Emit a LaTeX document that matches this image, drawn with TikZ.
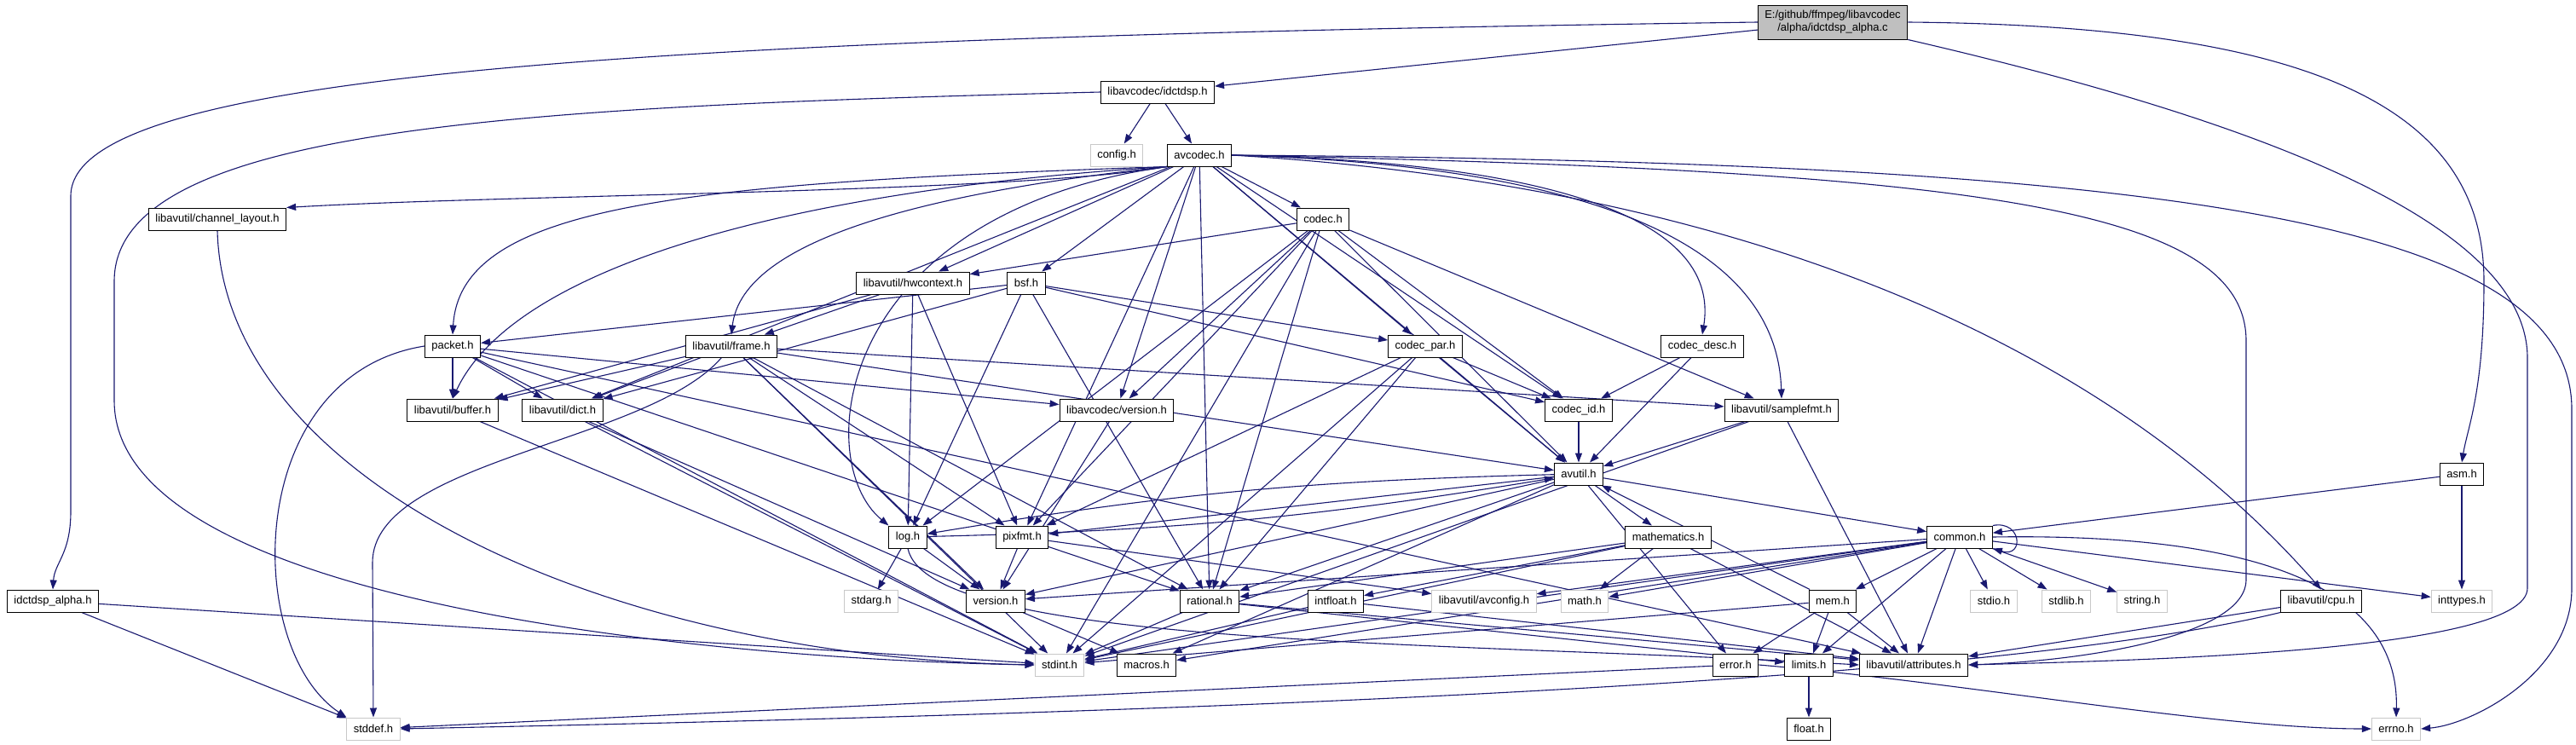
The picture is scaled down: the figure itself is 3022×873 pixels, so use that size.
\documentclass[tikz,border=0pt]{standalone}
\usepackage{fontspec}
\setmainfont{Liberation Sans}
\usetikzlibrary{arrows.meta,backgrounds}
\definecolor{edgeblue}{RGB}{25,25,112}
\definecolor{rootgray}{RGB}{191,191,191}
\definecolor{sysgray}{RGB}{200,200,200}

\begin{document}
\begin{tikzpicture}[x=1pt, y=-1pt,
  every node/.style={font=\fontsize{13}{15}\selectfont},
  hdr/.style={draw=black, line width=1pt, fill=white, rectangle, inner xsep=8pt, inner ysep=0pt, minimum height=26pt, align=center},
  syshdr/.style={hdr, draw=sysgray},
  roothdr/.style={hdr, fill=rootgray, minimum height=40pt},
  dep/.style={draw=edgeblue, line width=1.1pt, -{Triangle[length=11pt,width=8pt]}}]
\useasboundingbox (0,0) rectangle (3022,873);

\node[roothdr] (root) at (2150,26) {E:/github/ffmpeg/libavcodec\\/alpha/idctdsp\_alpha.c};
\node[hdr] (idctdsp) at (1358,108) {libavcodec/idctdsp.h};
\node[syshdr] (config) at (1310,182) {config.h};
\node[hdr] (avcodec) at (1407,182) {avcodec.h};
\node[hdr] (chlayout) at (255,257) {libavutil/channel\_layout.h};
\node[hdr] (codec) at (1552,257) {codec.h};
\node[hdr] (hwcontext) at (1071,332) {libavutil/hwcontext.h};
\node[hdr] (bsf) at (1204,332) {bsf.h};
\node[hdr] (packet) at (531,406) {packet.h};
\node[hdr] (frame) at (858,406) {libavutil/frame.h};
\node[hdr] (codecpar) at (1672,406) {codec\_par.h};
\node[hdr] (codecdesc) at (1997,406) {codec\_desc.h};
\node[hdr] (buffer) at (531,481) {libavutil/buffer.h};
\node[hdr] (dict) at (660,481) {libavutil/dict.h};
\node[hdr] (lcversion) at (1310,481) {libavcodec/version.h};
\node[hdr] (codecid) at (1852,481) {codec\_id.h};
\node[hdr] (samplefmt) at (2090,481) {libavutil/samplefmt.h};
\node[hdr] (avutil) at (1852,556) {avutil.h};
\node[hdr] (asm) at (2888,556) {asm.h};
\node[hdr] (log) at (1065,630) {log.h};
\node[hdr] (pixfmt) at (1199,630) {pixfmt.h};
\node[hdr] (mathematics) at (1957,630) {mathematics.h};
\node[hdr] (common) at (2299,630) {common.h};
\node[hdr] (idctalpha) at (62,705) {idctdsp\_alpha.h};
\node[syshdr] (stdarg) at (1022,705) {stdarg.h};
\node[hdr] (version) at (1168,705) {version.h};
\node[hdr] (rational) at (1419,705) {rational.h};
\node[hdr] (intfloat) at (1567,705) {intfloat.h};
\node[syshdr] (avconfig) at (1741,705) {libavutil/avconfig.h};
\node[syshdr] (mathh) at (1859,705) {math.h};
\node[hdr] (mem) at (2150,705) {mem.h};
\node[syshdr] (stdio) at (2339,705) {stdio.h};
\node[syshdr] (stdlib) at (2424,705) {stdlib.h};
\node[syshdr] (string) at (2513,705) {string.h};
\node[hdr] (cpu) at (2723,705) {libavutil/cpu.h};
\node[syshdr] (inttypes) at (2888,705) {inttypes.h};
\node[syshdr] (stdint) at (1243,780) {stdint.h};
\node[hdr] (macros) at (1345,780) {macros.h};
\node[hdr] (error) at (2036,780) {error.h};
\node[hdr] (limits) at (2122,780) {limits.h};
\node[hdr] (attributes) at (2245,780) {libavutil/attributes.h};
\node[syshdr] (stddef) at (438,855) {stddef.h};
\node[hdr] (float) at (2122,855) {float.h};
\node[syshdr] (errno) at (2811,855) {errno.h};

\begin{pgfonlayer}{background}
\fill[white] (0,0) rectangle (3022,873);
\draw[dep] (root) -- (idctdsp);
\draw[dep] (root.west) .. controls (700,45) and (83,90) .. (83,230) -- (83,600) .. controls (83,650) and (64,660) .. (idctalpha.north);
\draw[dep] (root.east) .. controls (2700,30) and (2914,120) .. (2914,330) .. controls (2914,460) and (2895,500) .. (asm.north);
\draw[dep] (root.south east) .. controls (2600,130) and (2965,250) .. (2965,420) -- (2965,690) .. controls (2965,765) and (2500,775) .. (attributes.east);
\draw[dep] (idctdsp) -- (config);
\draw[dep] (idctdsp) -- (avcodec);
\draw[dep] (idctdsp.west) .. controls (600,125) and (134,150) .. (134,330) -- (134,470) .. controls (134,720) and (900,775) .. (stdint.west);
\draw[dep] (idctalpha) -- (stddef);
\draw[dep] (idctalpha) -- (stdint);
\draw[dep] (avcodec.east) .. controls (2500,190) and (3017,250) .. (3017,480) -- (3017,690) .. controls (3017,790) and (2900,850) .. (errno.east);
\draw[dep] (avcodec.east) .. controls (2300,200) and (2635,240) .. (2635,400) -- (2635,680) .. controls (2635,745) and (2450,775) .. (attributes.east);
\draw[dep] (avcodec.east) .. controls (2000,215) and (2450,380) .. (cpu.north);
\draw[dep] (avcodec.east) .. controls (1900,195) and (2085,300) .. (samplefmt.north);
\draw[dep] (avcodec.east) .. controls (1800,190) and (2020,250) .. (codecdesc.north);
\draw[dep] (avcodec.south west) .. controls (1200,226) and (600,228) .. (chlayout.north east);
\draw[dep] (avcodec.south west) .. controls (800,215) and (540,240) .. (packet.north);
\draw[dep] (avcodec.south west) .. controls (900,225) and (600,320) .. (buffer.north);
\draw[dep] (avcodec.south west) .. controls (1050,230) and (870,290) .. (frame.north);
\draw[dep] (avcodec.south west) .. controls (980,250) and (950,540) .. (log.north west);
\foreach \t in {avutil,dict,hwcontext,pixfmt,rational,bsf,codec,codecpar,codecid,lcversion}
  \draw[dep] (avcodec) -- (\t);
\foreach \t in {stdint,avutil,hwcontext,log,pixfmt,rational,samplefmt,codecid,lcversion}
  \draw[dep] (codec) -- (\t);
\foreach \t in {dict,log,rational,codecid,codecpar,packet}
  \draw[dep] (bsf) -- (\t);
\draw[dep] (codecdesc) -- (avutil);
\draw[dep] (codecdesc) -- (codecid);
\draw[dep] (codecid) -- (avutil);
\foreach \t in {stdint,avutil,rational,pixfmt,codecid}
  \draw[dep] (codecpar) -- (\t);
\draw[dep] (packet.west) .. controls (285,440) and (285,760) .. (stddef.north west);
\foreach \t in {stdint,attributes,buffer,dict,rational,lcversion}
  \draw[dep] (packet) -- (\t);
\draw[dep] (lcversion) -- (version);
\draw[dep] (chlayout.south) .. controls (262,560) and (700,770) .. (stdint.west);
\foreach \t in {buffer,frame,log,pixfmt}
  \draw[dep] (hwcontext) -- (\t);
\draw[dep] (frame) .. controls (760,520) and (437,540) .. (437,660) -- (stddef.north);
\foreach \t in {stdint,avutil,buffer,dict,rational,samplefmt,pixfmt,version}
  \draw[dep] (frame) -- (\t);
\draw[dep] (buffer) -- (stdint);
\draw[dep] (dict) -- (stdint);
\draw[dep] (dict) -- (version);
\foreach \t in {avutil,attributes,stdint}
  \draw[dep] (samplefmt) -- (\t);
\foreach \t in {common,error,rational,version,macros,mathematics,pixfmt}
  \draw[dep] (avutil) -- (\t);
\draw[dep] (avutil) to[bend right=4] (log);
\draw[dep] (log) to[bend right=4] (avutil);
\draw[dep] (log) -- (stdarg);
\draw[dep] (log) -- (version);
\draw[dep] (log.south) .. controls (1090,760) and (1700,752) .. (attributes.west);
\draw[dep] (pixfmt) -- (avconfig);
\draw[dep] (pixfmt) -- (version);
\foreach \t in {stdint,limits,attributes}
  \draw[dep] (rational) -- (\t);
\foreach \t in {stdint,mathh,attributes,rational,intfloat}
  \draw[dep] (mathematics) -- (\t);
\draw[dep] (intfloat) -- (stdint);
\draw[dep] (intfloat) -- (attributes);
\draw[dep] (version) -- (macros);
\draw[dep] (common.east) .. controls (2650,625) and (2815,690) .. (errno.north);
\foreach \t in {inttypes,limits,mathh,stdint,stdio,stdlib,string,attributes,macros,version,avconfig,mem}
  \draw[dep] (common) -- (\t);
\draw[dep] (common.north east) .. controls (2372,610) and (2375,655) .. (common.south east);
\foreach \t in {error,limits,attributes,stdint,avutil}
  \draw[dep] (mem) -- (\t);
\draw[dep] (cpu) -- (attributes);
\draw[dep] (cpu.south west) .. controls (2300,810) and (1200,840) .. (stddef.east);
\draw[dep] (asm) -- (inttypes);
\draw[dep] (asm) -- (common);
\draw[dep] (limits) -- (float);
\draw[dep] (error.east) .. controls (2300,800) and (2600,855) .. (errno.west);
\draw[dep] (error) -- (stddef);
\end{pgfonlayer}
\end{tikzpicture}
\end{document}
